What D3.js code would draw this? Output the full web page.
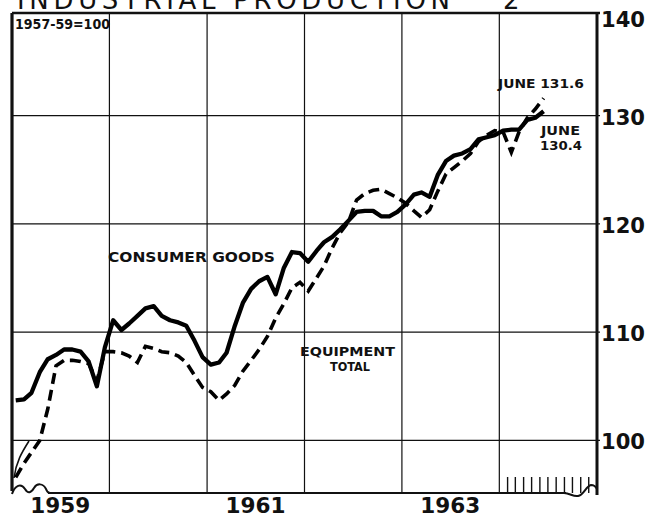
<!DOCTYPE html>
<html>
<head>
<meta charset="utf-8">
<script src="https://cdn.jsdelivr.net/npm/d3@7"></script>
<style>
  body { margin: 0; background: #fff; }
  svg { display: block; }
  text { font-family: "DejaVu Sans", sans-serif; fill: #111; }
</style>
</head>
<body>
<svg width="648" height="518"></svg>
<script>
// monthly index values, Jan 1959 .. Jun 1964 (1957-59 = 100)
const startYear = 1959
const consumerGoods = [
  103.7, 103.8, 104.4, 106.3, 107.5, 107.9, 108.4, 108.4, 108.2, 107.3, 105.0, 108.6,
  111.1, 110.2, 110.8, 111.5, 112.2, 112.4, 111.5, 111.1, 110.9, 110.6, 109.2, 107.7,
  107.0, 107.2, 108.1, 110.6, 112.7, 114.0, 114.7, 115.1, 113.5, 115.9, 117.4, 117.3,
  116.5, 117.5, 118.3, 118.8, 119.5, 120.3, 121.1, 121.2, 121.2, 120.7, 120.7, 121.1,
  121.8, 122.7, 122.9, 122.5, 124.5, 125.8, 126.3, 126.5, 126.9, 127.8, 128.0, 128.2,
  128.6, 128.7, 128.7, 129.6, 129.8, 130.4
]
const equipmentTotal = [
  96.6, 97.9, 98.9, 100.0, 102.9, 106.9, 107.4, 107.4, 107.3, 107.1, 105.5, 108.2,
  108.2, 108.1, 107.8, 107.2, 108.7, 108.5, 108.2, 108.1, 107.8, 107.2, 106.0, 104.9,
  104.5, 103.7, 104.3, 105.1, 106.4, 107.4, 108.4, 109.6, 111.3, 112.6, 114.1, 114.6,
  113.8, 115.0, 116.1, 117.8, 119.2, 120.2, 122.2, 122.8, 123.1, 123.2, 122.8, 122.4,
  121.9, 121.2, 120.6, 121.3, 123.0, 124.6, 125.2, 125.8, 126.5, 127.6, 128.2, 128.6,
  128.5, 126.6, 128.5, 129.8, 130.6, 131.6
]
const gridYears = [1960, 1961, 1962, 1963, 1964]
const yearLabels = [1959, 1961, 1963]
const yTicks = [100, 110, 120, 130, 140]

const LEFT = 12, RIGHT = 597, TOP = 13, BOTTOM = 493

const x = d3.scaleTime()
  .domain([new Date(1959, 0, 1), new Date(1965, 0, 1)])
  .range([LEFT, RIGHT])
const y = d3.scaleLinear()
  .domain([95.15, 139.47])
  .range([BOTTOM, TOP])

const toPoints = arr => arr.map((v, i) => ({date: new Date(startYear, i, 15), value: v}))

const svg = d3.select("svg")

// title, top half cut off by the page edge as in the scan
svg.append("text")
  .attr("x", 17).attr("y", 9)
  .attr("font-size", 26)
  .attr("textLength", 433).attr("lengthAdjust", "spacing")
  .text("INDUSTRIAL PRODUCTION")
svg.append("text")
  .attr("x", 503).attr("y", 9)
  .attr("font-size", 26)
  .text("2")

const grid = svg.append("g").attr("stroke", "#111").attr("stroke-width", 1.2)

grid.selectAll(".vgrid")
  .data(gridYears)
  .enter().append("line")
    .attr("x1", d => x(new Date(d, 0, 1)))
    .attr("x2", d => x(new Date(d, 0, 1)))
    .attr("y1", TOP).attr("y2", BOTTOM)

grid.selectAll(".hgrid")
  .data(yTicks.filter(d => d < 140))
  .enter().append("line")
    .attr("x1", LEFT).attr("x2", RIGHT + 3)
    .attr("y1", d => y(d)).attr("y2", d => y(d))

// month ticks for 1964
grid.selectAll(".mtick")
  .data(d3.range(1, 12))
  .enter().append("line")
    .attr("stroke-width", 1.4)
    .attr("x1", d => x(new Date(1964, d, 1)))
    .attr("x2", d => x(new Date(1964, d, 1)))
    .attr("y1", BOTTOM - 16).attr("y2", BOTTOM)

// frame
const frame = svg.append("g").attr("stroke", "#111").attr("fill", "none")
frame.append("line").attr("x1", LEFT).attr("x2", RIGHT + 3).attr("y1", TOP).attr("y2", TOP).attr("stroke-width", 2.5)
frame.append("line").attr("x1", LEFT).attr("x2", LEFT).attr("y1", TOP).attr("y2", BOTTOM - 2).attr("stroke-width", 3.2)
frame.append("line").attr("x1", RIGHT).attr("x2", RIGHT).attr("y1", TOP - 1).attr("y2", BOTTOM + 2).attr("stroke-width", 3)
frame.append("line").attr("x1", 48).attr("x2", 566).attr("y1", BOTTOM).attr("y2", BOTTOM).attr("stroke-width", 2.2)
// scale-break waves at the bottom
frame.append("path").attr("stroke-width", 2)
  .attr("d", "M12,494 C15,485 21,483 25,489 C28,494 31,493 34,488 C37,483 43,483 46,489 C47,492 48,493 50,493")
frame.append("path").attr("stroke-width", 2)
  .attr("d", "M564,493 C570,493 573,497 578,496 C584,495 586,486 591,485 C594,485 596,487 597,489")
frame.append("path").attr("stroke-width", 1.6)
  .attr("d", "M29,441 C22,452 16,462 14,478")

svg.append("clipPath").attr("id", "plot")
  .append("rect").attr("x", LEFT).attr("y", TOP).attr("width", RIGHT - LEFT).attr("height", BOTTOM - TOP)

const line = d3.line()
  .x(d => x(d.date))
  .y(d => y(d.value))

const lines = svg.append("g").attr("clip-path", "url(#plot)").attr("fill", "none").attr("stroke", "#000")

lines.append("path")
  .datum(toPoints(equipmentTotal))
  .attr("stroke-width", 3.6)
  .attr("stroke-dasharray", "11,6")
  .attr("d", line)

lines.append("path")
  .datum(toPoints(consumerGoods))
  .attr("stroke-width", 4.3)
  .attr("stroke-linejoin", "round")
  .attr("d", line)

// right-hand value labels
svg.selectAll(".ylab")
  .data(yTicks)
  .enter().append("text")
    .attr("x", RIGHT + 4)
    .attr("y", d => Math.max(y(d), TOP) + (d === 140 ? 14 : 9))
    .attr("font-size", 21).attr("font-weight", "bold")
    .attr("textLength", 44).attr("lengthAdjust", "spacingAndGlyphs")
    .text(d => d)

// year labels
svg.selectAll(".xlab")
  .data(yearLabels)
  .enter().append("text")
    .attr("x", d => x(new Date(d, 6, 1)))
    .attr("y", 513)
    .attr("text-anchor", "middle")
    .attr("font-size", 22).attr("font-weight", "bold")
    .attr("textLength", 60).attr("lengthAdjust", "spacingAndGlyphs")
    .text(d => d)

// annotations
function note(txt, px, py, size, len) {
  svg.append("text")
    .attr("x", px).attr("y", py)
    .attr("font-size", size).attr("font-weight", "bold")
    .attr("textLength", len).attr("lengthAdjust", "spacingAndGlyphs")
    .text(txt)
}
note("1957-59=100", 15, 29, 13.5, 95)
note("CONSUMER GOODS", 108, 262, 13.5, 167)
note("EQUIPMENT", 300, 356, 12.5, 95)
note("TOTAL", 330, 371, 12.5, 40)
note("JUNE 131.6", 498, 88, 12, 86)
note("JUNE", 541, 135, 12, 39)
note("130.4", 540, 150, 12, 42)
</script>
</body>
</html>
